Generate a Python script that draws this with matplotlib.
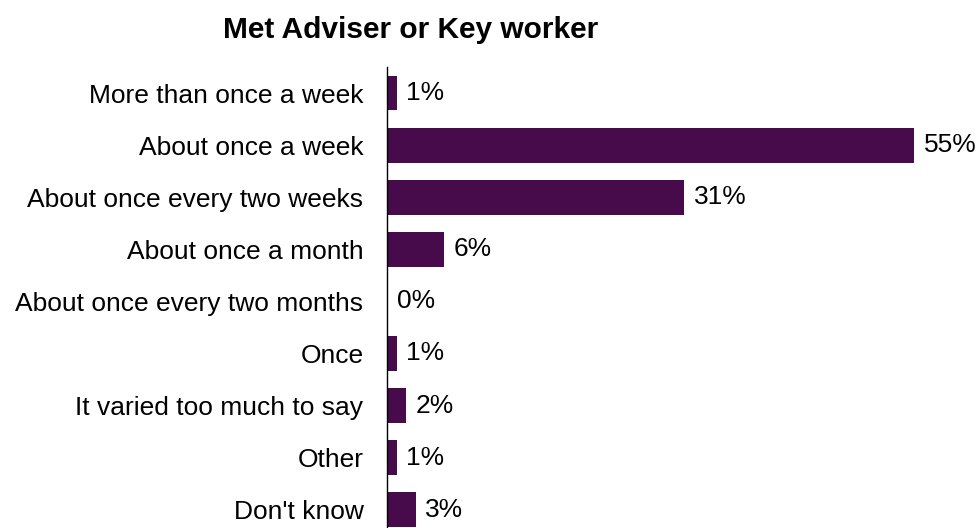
import matplotlib
matplotlib.use("Agg")
import matplotlib.pyplot as plt

categories = ["More than once a week", "About once a week", "About once every two weeks",
              "About once a month", "About once every two months", "Once",
              "It varied too much to say", "Other", "Don't know"]
values = [1, 55, 31, 6, 0, 1, 2, 1, 3]

plt.rcParams["font.family"] = ["Liberation Sans", "DejaVu Sans"]
BAR = "#470B4C"

fig = plt.figure(figsize=(9.8, 5.28), dpi=100)
ax = fig.add_axes([387 / 980, 0, 593 / 980, 461 / 528])

y = range(len(categories))
ax.barh(y, values, height=0.67, color=BAR)
for yi, v in zip(y, values):
    ax.text(v + 1.0, yi, f"{v}%", va="center", ha="left", fontsize=19)

ax.set_xlim(0, 61.9)
ax.set_ylim(8.35, -0.5)
ax.set_yticks(list(y))
ax.set_yticklabels(categories, fontsize=19)
ax.tick_params(axis="y", length=0, pad=17)
ax.set_xticks([])
for s in ["top", "right", "bottom"]:
    ax.spines[s].set_visible(False)
ax.spines["left"].set_linewidth(1.0)

fig.text(411 / 980, 1 - 30 / 528, "Met Adviser or Key worker", ha="center", va="center",
         fontsize=21.5, fontweight="bold")

fig.savefig("out.png", dpi=100)
